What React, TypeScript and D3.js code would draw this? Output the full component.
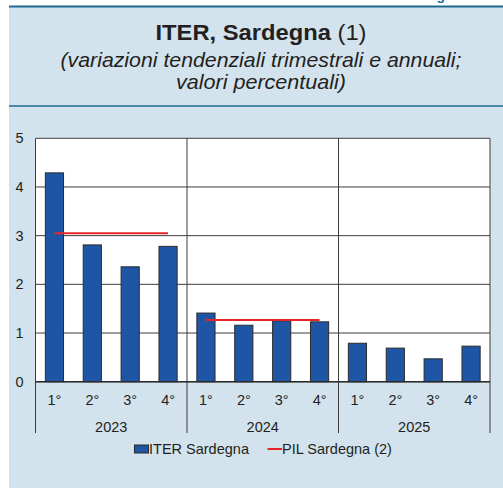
import * as d3 from "d3";

// quarterly ITER growth and annual PIL growth, Sardegna (%)
const years = ["2023", "2024", "2025"];
const quarters = ["1°", "2°", "3°", "4°"];
const iterValues = [4.29, 2.81, 2.36, 2.78, 1.41, 1.16, 1.25, 1.23, 0.79, 0.69, 0.47, 0.73];
const pilValues: (number | null)[] = [3.05, 1.27, null];
const yTicks = [0, 1, 2, 3, 4, 5];

const width = 503;
const height = 488;
const left = 35.5;
const right = 490;
const top = 138.3;
const bottom = 381.7;

const font = "'Liberation Sans', Arial, sans-serif";
const panelBg = "#d3e3ed";
const frame = "#1f6a8c";
const barBlue = "#1f55a5";
const red = "#e8242b";
const ink = "#231f20";

export default function App() {
    const keys = years.flatMap((yr) => quarters.map((q) => `${yr}-${q}`));

    const x = d3.scaleBand(keys, [left, right]).paddingInner(0.52).paddingOuter(0.26);
    const xYear = d3.scaleBand(years, [left, right]);
    const y = d3.scaleLinear([0, 5], [bottom, top]);

    const yAxis = d3.axisLeft(y).tickValues(yTicks).tickSize(0).tickPadding(12).tickFormat(d3.format("d"));

    const line = d3.line<[number, number]>((d) => d[0], (d) => d[1]);

    return (
        <svg width={width} height={height} style={{ position: "absolute", left: 0, top: 0 }} fontFamily={font}>
            {/* panel */}
            <rect x={9} y={6} width={width - 9} height={height - 6} fill={panelBg} />
            <line x1={9} x2={width} y1={6.5} y2={6.5} stroke={frame} strokeWidth={2} />
            <line x1={9} x2={width} y1={106} y2={106} stroke={frame} strokeWidth={1.5} />
            {/* figure label above the panel, cut by the top edge as in the source */}
            <text x={424} y={-0.5} fill={frame} fontSize={14} fontWeight="bold">Figura</text>

            {/* title */}
            <text x={261} y={40} textAnchor="middle" fontSize={21.5} fill={ink} textLength={211} lengthAdjust="spacingAndGlyphs">
                <tspan fontWeight="bold">ITER, Sardegna</tspan> (1)
            </text>
            <text x={261} y={66.5} textAnchor="middle" fontSize={21} fontStyle="italic" fill={ink} textLength={401} lengthAdjust="spacingAndGlyphs">
                (variazioni tendenziali trimestrali e annuali;
            </text>
            <text x={261} y={89} textAnchor="middle" fontSize={21} fontStyle="italic" fill={ink} textLength={170} lengthAdjust="spacingAndGlyphs">
                valori percentuali)
            </text>

            {/* plot */}
            <rect x={left} y={top} width={right - left} height={bottom - top} fill="white" />
            <g stroke="#3d3d3d" strokeWidth={1}>
                {yTicks.map((t) => (
                    <line key={t} x1={left} x2={right} y1={y(t)} y2={y(t)} />
                ))}
            </g>
            {years.map((yr) => (
                <line key={yr} x1={xYear(yr)!} x2={xYear(yr)!} y1={top} y2={433} stroke="#3d3d3d" strokeWidth={1} />
            ))}
            <line x1={right} x2={right} y1={top} y2={433} stroke="#3d3d3d" strokeWidth={1} />

            {/* bars */}
            <g fill={barBlue} stroke="#2b2b2b" strokeWidth={1}>
                {iterValues.map((v, i) => (
                    <rect key={keys[i]} x={x(keys[i])!} y={y(v)} width={x.bandwidth()} height={y(0) - y(v)} />
                ))}
            </g>
            <line x1={left} x2={right} y1={bottom} y2={bottom} stroke="#2b2b2b" strokeWidth={1.5} />

            {/* PIL annual lines */}
            {years.map((yr, i) => {
                const v = pilValues[i];
                if (v == null) return null;
                const pts: [number, number][] = [
                    [x(`${yr}-${quarters[0]}`)! + x.bandwidth() / 2, y(v)],
                    [x(`${yr}-${quarters[3]}`)! + x.bandwidth() / 2, y(v)],
                ];
                return <path key={yr} d={line(pts) || undefined} stroke={red} strokeWidth={2} fill="none" />;
            })}

            {/* y axis */}
            <g
                transform={`translate(${left},0)`}
                ref={(node) => {
                    if (!node) return;
                    const g = d3.select(node).call(yAxis);
                    g.select(".domain").remove();
                    g.selectAll("text").attr("font-size", 14.5).attr("font-family", font).attr("fill", ink);
                }}
            />

            {/* x labels */}
            <g fontSize={14.5} fill={ink} textAnchor="middle">
                {keys.map((k, i) => (
                    <text key={k} x={x(k)! + x.bandwidth() / 2} y={405}>
                        {quarters[i % 4]}
                    </text>
                ))}
                {years.map((yr) => (
                    <text key={yr} x={xYear(yr)! + xYear.bandwidth() / 2} y={431.5}>
                        {yr}
                    </text>
                ))}
            </g>

            {/* legend */}
            <rect x={134.5} y={445} width={14} height={8} fill={barBlue} stroke="#2b2b2b" strokeWidth={1} />
            <text x={149} y={453.5} fontSize={14.5} fill={ink}>ITER Sardegna</text>
            <line x1={267.5} x2={282} y1={449} y2={449} stroke={red} strokeWidth={2} />
            <text x={282} y={453.5} fontSize={14.5} fill={ink}>PIL Sardegna (2)</text>
        </svg>
    );
}
